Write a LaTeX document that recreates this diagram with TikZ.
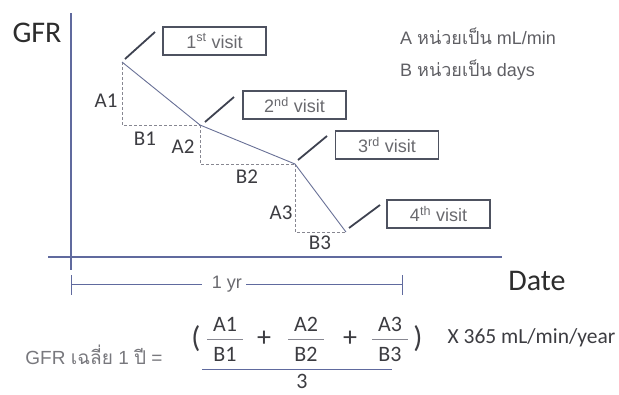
\documentclass[tikz,border=0pt]{standalone}
\usepackage{fontspec}
\setmainfont{Carlito}
\newfontfamily\arialfont{Liberation Sans}
\newfontfamily\thaifont[Script=Thai]{Loma}
\usetikzlibrary{positioning}

\definecolor{axisc}{RGB}{96,106,158}
\definecolor{trendc}{RGB}{104,112,150}
\definecolor{guidec}{RGB}{135,135,145}
\definecolor{boxc}{RGB}{78,82,96}
\definecolor{pointc}{RGB}{62,66,80}
\definecolor{titlec}{RGB}{45,45,45}
\definecolor{lblc}{RGB}{60,60,65}
\definecolor{visitc}{RGB}{105,105,110}
\definecolor{notec}{RGB}{95,95,100}
\definecolor{meanc}{RGB}{120,120,125}

\begin{document}
\begin{tikzpicture}[
    x=1pt, y=-1pt,
    axisline/.style={draw=axisc, line width=1.3pt},
    trend/.style={draw=trendc, line width=0.9pt},
    guide/.style={draw=guidec, dash pattern=on 3pt off 2pt, line width=0.8pt},
    visitbox/.style={rectangle, draw=boxc, line width=1.4pt, minimum width=103pt, minimum height=28pt, inner sep=0pt, text=visitc, font=\arialfont\fontsize{18}{20}\selectfont},
    pointer/.style={draw=pointc, line width=1.8pt},
    lbl/.style={inner sep=0pt, text=lblc, font=\fontsize{21}{23}\selectfont},
    fracnum/.style={inner sep=0pt, text=lblc, font=\fontsize{22}{24}\selectfont},
    fracbar/.style={draw=axisc, line width=1pt},
    note/.style={inner sep=0pt, anchor=west, text=notec, font=\arialfont\fontsize{18}{20}\selectfont}
]
\useasboundingbox (0,0) rectangle (619,394);

% Axes
\coordinate (ytop) at (71,13);
\coordinate (ybot) at (71,270);
\coordinate (xleft) at (48,257);
\coordinate (xright) at (502,257);
\draw[axisline] (ytop) -- (ybot);
\draw[axisline] (xleft) -- (xright);
\node[text=titlec, font=\fontsize{30}{32}\selectfont] (gfr) at (37,33) {GFR};
\node[text=titlec, font=\fontsize{30}{32}\selectfont] (date) at (537,281) {Date};

% Visits
\coordinate (p1) at (122,62);
\coordinate (p2) at (200,125);
\coordinate (p3) at (295,164);
\coordinate (p4) at (346,232);
\coordinate (c1) at (p1 |- p2);
\coordinate (c2) at (p2 |- p3);
\coordinate (c3) at (p3 |- p4);
\draw[guide] (p1) -- (c1) -- (p2);
\draw[guide] (p2) -- (c2) -- (p3);
\draw[guide] (p3) -- (c3) -- (p4);
\draw[trend] (p1) -- (p2) -- (p3) -- (p4);

\node[lbl] (a1) at (106,101) {A1};
\node[lbl] (b1) at (145,139) {B1};
\node[lbl] (a2) at (183,147) {A2};
\node[lbl] (b2) at (247,177) {B2};
\node[lbl] (a3) at (281,213) {A3};
\node[lbl] (b3) at (320,243) {B3};

\node[visitbox] (v1) at (214.5,41) {1\textsuperscript{st} visit};
\node[visitbox] (v2) at (294.5,105) {2\textsuperscript{nd} visit};
\node[visitbox] (v3) at (387,145) {3\textsuperscript{rd} visit};
\node[visitbox] (v4) at (438.5,214) {4\textsuperscript{th} visit};

\coordinate (t1) at (125,59);  \coordinate (u1) at (155,32);
\coordinate (t2) at (205,122); \coordinate (u2) at (234,97);
\coordinate (t3) at (298,160); \coordinate (u3) at (327,136);
\coordinate (t4) at (349,228); \coordinate (u4) at (380,205);
\foreach \i in {1,...,4}
  \draw[pointer] (t\i) -- (u\i);

% Units
\node[note] (unita) at (400,36) {A {\thaifont หน่วยเป็น} mL/min};
\node[note] (unitb) at (400,70) {B {\thaifont หน่วยเป็น} days};

% One year span
\coordinate (yl) at (71,284);
\coordinate (yr) at (402,284);
\node[inner sep=0pt, text=visitc, font=\arialfont\fontsize{18}{20}\selectfont] (year) at (227,284) {1 yr};
\draw[axisline, line width=1pt] (71,275) -- (71,295);
\draw[axisline, line width=1pt] (402,275) -- (402,295);
\draw[axisline, line width=1pt] (yl) -- ([xshift=-10pt]year.west);
\draw[axisline, line width=1pt] ([xshift=4pt]year.east) -- (yr);

% Formula
\node[inner sep=0pt, text=meanc, font=\arialfont\fontsize{19}{21}\selectfont] (mean) at (94,355) {GFR {\thaifont เฉลี่ย} 1 {\thaifont ปี} =};
\node[fracnum, font=\fontsize{30}{32}\selectfont] (lpar) at (196,339) {(};
\node[fracnum, font=\fontsize{30}{32}\selectfont] (rpar) at (418,339) {)};
\foreach \x/\i in {225/1,306/2,390/3} {
  \node[fracnum] (fa\i) at (\x,324) {A\i};
  \node[fracnum] (fb\i) at (\x,354) {B\i};
  \coordinate (bl\i) at (\x-18,339);
  \coordinate (br\i) at (\x+18,339);
  \draw[fracbar, draw=guidec] (bl\i) -- (br\i);
}
\node[fracnum, font=\fontsize{28}{30}\selectfont] (plus1) at (264,339) {+};
\node[fracnum, font=\fontsize{28}{30}\selectfont] (plus2) at (350,339) {+};
\node[fracnum, font=\fontsize{21.5}{23}\selectfont] (times) at (531.5,338) {X 365 mL/min/year};
\coordinate (ml) at (202,369);
\coordinate (mr) at (392,369);
\draw[fracbar] (ml) -- (mr);
\node[fracnum] (three) at (302,381) {3};

\end{tikzpicture}
\end{document}
